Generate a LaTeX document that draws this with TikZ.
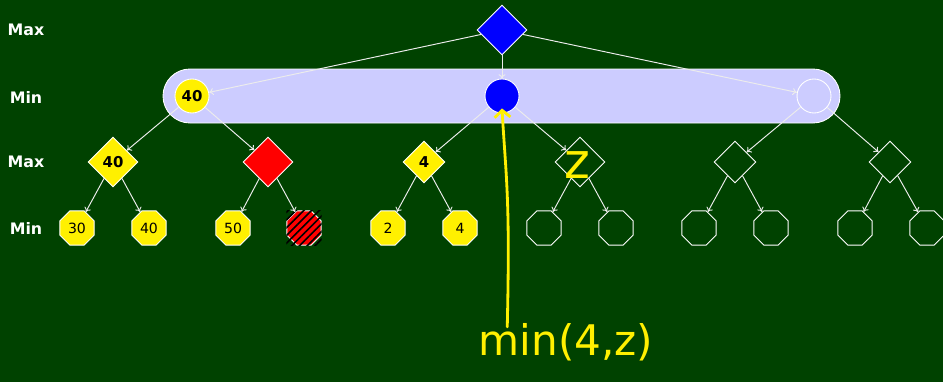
\documentclass[tikz,border=0pt]{standalone}
\usepackage{fontspec}
\setsansfont{DejaVu Sans}
\usetikzlibrary{shapes.geometric, arrows.meta, patterns.meta}

\definecolor{board}{RGB}{0,66,0}
\definecolor{band}{RGB}{204,204,255}
\definecolor{gold}{RGB}{255,240,0}
\definecolor{chalk}{RGB}{236,236,236}

\begin{document}
\begin{tikzpicture}[
    x=0.02cm, y=-0.02cm,
    level/.style={font=\sffamily\bfseries\fontsize{9}{10}\selectfont, text=white},
    maxnode/.style={diamond, draw=white, line width=0.5pt, inner sep=0pt, minimum size=1cm, font=\sffamily\bfseries\fontsize{8.5}{10}\selectfont},
    minnode/.style={circle, draw=white, line width=0.5pt, inner sep=0pt, minimum size=0.68cm, font=\sffamily\bfseries\fontsize{8.5}{10}\selectfont},
    leaf/.style={regular polygon, regular polygon sides=8, draw=white, line width=0.5pt, inner sep=0pt, minimum size=0.74cm, font=\sffamily\fontsize{8}{9}\selectfont},
    edge/.style={draw=chalk, line width=0.55pt, -{To[length=2.5pt, width=4pt]}},
    zmark/.style={text=gold, font=\sffamily\fontsize{28}{30}\selectfont, inner sep=0pt},
    ink/.style={draw=gold, line width=1.6pt, line cap=round},
    inknote/.style={text=gold, font=\sffamily\fontsize{24}{28}\selectfont, inner sep=0pt}
]

% --- board ---
\fill[board] (0,0) rectangle (943,382);
\useasboundingbox (0,0) rectangle (943,382);

% --- level labels ---
\foreach \y/\t in {30/Max, 97/Min, 162/Max, 228/Min}
    \node[level] (lab\y) at (26,\y) {\t};

% --- highlighted Min row ---
\draw[white, fill=band, line width=0.5pt, rounded corners=0.54cm] (163,69) rectangle (840,123);

% --- root and Min row ---
\node[maxnode, fill=blue] (r) at (502,30) {};
\node[minnode, fill=gold] (m1) at (192,96) {40};
\node[minnode, fill=blue] (m2) at (502,96) {};
\node[minnode] (m3) at (814,96) {};

% --- Max row ---
\node[maxnode, fill=gold] (x1) at (113,162) {40};
\node[maxnode, fill=red] (x2) at (268,162) {};
\node[maxnode, fill=gold, minimum size=0.84cm] (x3) at (424,162) {4};
\node[maxnode, label={[zmark, xshift=-0.06cm, yshift=-0.06cm]center:z}] (x4) at (580,162) {};
\node[maxnode, minimum size=0.84cm] (x5) at (735,162) {};
\node[maxnode, minimum size=0.84cm] (x6) at (890,162) {};

% --- leaves ---
\foreach \i/\x/\v/\c in {1/77/30/gold, 2/149/40/gold, 3/233/50/gold, 4/304//red,
                         5/388/2/gold, 6/460/4/gold, 7/544//none, 8/616//none,
                         9/699//none, 10/771//none, 11/855//none, 12/927//none}
    \node[leaf, fill=\c] (l\i) at (\x,228) {\v};

% pruned leaf
\path[pattern={Lines[angle=45, distance=0.11cm, line width=0.9pt]}, pattern color=black]
    (l4.west |- l4.north) rectangle (l4.east |- l4.south);

% --- edges ---
\foreach \a/\b in {r/m1, r/m2, r/m3, m1/x1, m1/x2, m2/x3, m2/x4, m3/x5, m3/x6,
                   x1/l1, x1/l2, x2/l3, x2/l4, x3/l5, x3/l6, x4/l7, x4/l8,
                   x5/l9, x5/l10, x6/l11, x6/l12}
    \draw[edge] (\a) -- (\b);

% --- handwritten note ---
\node[inknote] (note) at (566,342) {min(4,z)};
\draw[ink, -{Straight Barb[length=4pt, width=9pt]}]
    ([xshift=0.58cm, yshift=-0.08cm]note.north west) .. controls +(3,-130) and +(4,70) .. ([yshift=0.1cm]m2.south);

\end{tikzpicture}
\end{document}
